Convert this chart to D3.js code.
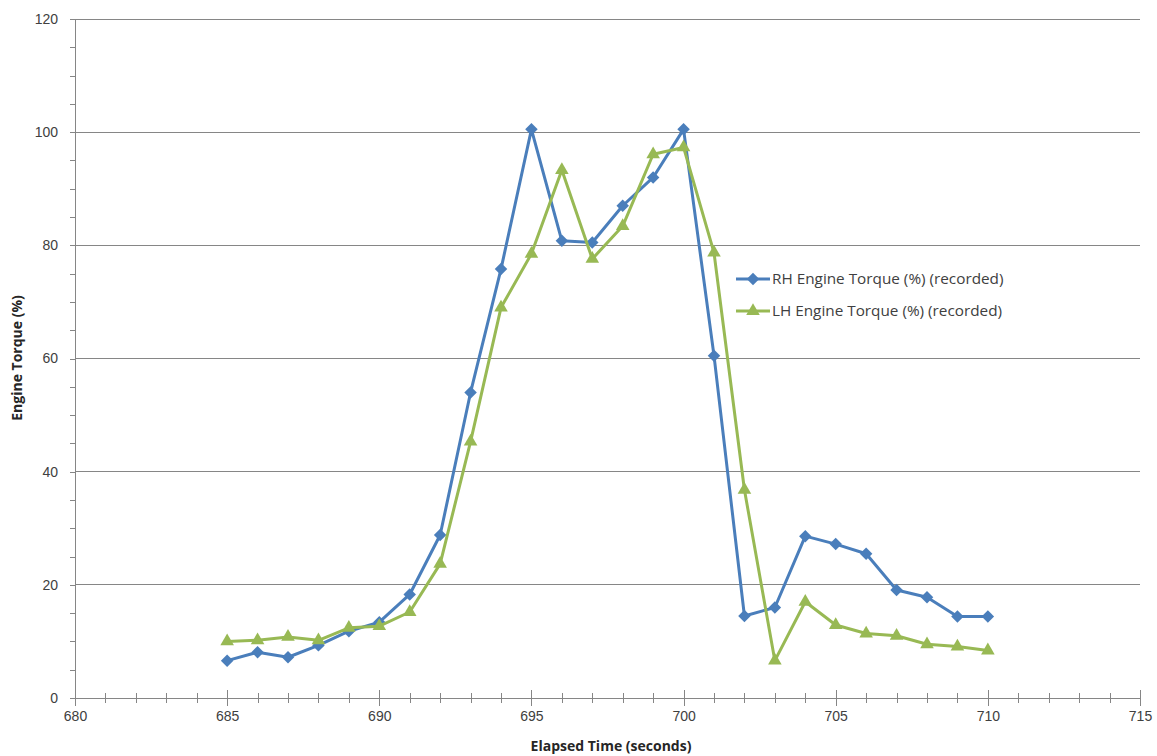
<!DOCTYPE html>
<html><head><meta charset="utf-8">
<script src="https://cdn.jsdelivr.net/npm/d3@7"></script>
<style>body{margin:0;background:#fff;}svg{display:block;font-family:"Open Sans",sans-serif;}</style>
</head><body>
<svg id="c" width="1157" height="756"></svg>
<script>
const times = [685,686,687,688,689,690,691,692,693,694,695,696,697,698,699,700,701,702,703,704,705,706,707,708,709,710];
const rhTorque = [6.6,8.1,7.2,9.3,11.8,13.4,18.3,28.8,54.0,75.8,100.5,80.8,80.5,87.0,92.0,100.5,60.5,14.5,16.0,28.6,27.2,25.5,19.1,17.8,14.4,14.4];
const lhTorque = [10.0,10.2,10.8,10.2,12.4,12.7,15.2,23.7,45.3,69.0,78.5,93.3,77.6,83.4,96.1,97.3,78.7,36.8,6.6,17.0,12.9,11.4,11.0,9.5,9.1,8.4];
const xTicks = [680,685,690,695,700,705,710,715];
const yTicks = [0,20,40,60,80,100,120];
const seriesNames = ["RH Engine Torque (%) (recorded)","LH Engine Torque (%) (recorded)"];
const colors = ["#4a7ebb","#98b954"];

const svg = d3.select("#c");
const L = 75, R = 1140, T = 19, B = 698;
const x = d3.scaleLinear().domain([680,715]).range([L,R]);
const y = d3.scaleLinear().domain([0,120]).range([B,T]);
const gridColor = "#868686";

svg.append("g").selectAll("line").data(yTicks.filter(d=>d>0)).join("line")
  .attr("x1",L).attr("x2",R).attr("y1",d=>y(d)).attr("y2",d=>y(d))
  .attr("stroke",gridColor).attr("stroke-width",1).attr("shape-rendering","crispEdges");

const yAxis = svg.append("g").attr("transform",`translate(${L},0)`)
  .call(d3.axisLeft(y).tickValues(d3.range(0,121,5)).tickSize(5).tickFormat(d=>yTicks.includes(d)?d:""));
yAxis.select(".domain").attr("stroke",gridColor).attr("shape-rendering","crispEdges");
yAxis.selectAll(".tick line").attr("stroke",gridColor).attr("shape-rendering","crispEdges");
yAxis.selectAll(".tick text").attr("x",-17).attr("font-size",14).attr("fill","#404040");

const xAxis = svg.append("g").attr("transform",`translate(0,${B})`)
  .call(d3.axisBottom(x).tickValues(d3.range(680,716,1)).tickSize(5).tickFormat(d=>xTicks.includes(d)?d:""));
xAxis.select(".domain").attr("stroke",gridColor).attr("shape-rendering","crispEdges");
xAxis.selectAll(".tick line").attr("stroke",gridColor).attr("shape-rendering","crispEdges")
  .attr("y1",-5).attr("y2",5);
xAxis.selectAll(".tick").filter(d=>xTicks.includes(d)).select("line").attr("y1",-8).attr("y2",8);
xAxis.selectAll(".tick text").attr("y",13).attr("font-size",14).attr("fill","#404040");

svg.append("text").attr("x",611).attr("y",751).attr("text-anchor","middle")
  .attr("font-size",14).attr("font-weight","bold").attr("fill","#262626").text("Elapsed Time (seconds)");
svg.append("text").attr("transform",`translate(22,358) rotate(-90)`).attr("text-anchor","middle")
  .attr("font-size",14).attr("font-weight","bold").attr("fill","#262626").text("Engine Torque (%)");

const line = d3.line().x(d=>x(d[0])).y(d=>y(d[1]));
const diamond = d3.symbol().type(d3.symbolSquare).size(78);
const tri = d3.symbol().type(d3.symbolTriangle).size(80);

[rhTorque, lhTorque].forEach((vals,i)=>{
  const pts = times.map((t,j)=>[t,vals[j]]);
  svg.append("path").datum(pts).attr("d",line).attr("fill","none")
    .attr("stroke",colors[i]).attr("stroke-width",3).attr("stroke-linejoin","round");
  svg.append("g").selectAll("path").data(pts).join("path")
    .attr("transform",d=>`translate(${x(d[0])},${y(d[1])})` + (i===0?" rotate(45)":""))
    .attr("d", i===0 ? diamond : tri)
    .attr("fill",colors[i]);
});

const lg = svg.append("g");
seriesNames.forEach((name,i)=>{
  const yy = 279 + i*32;
  lg.append("line").attr("x1",736).attr("x2",770).attr("y1",yy).attr("y2",yy)
    .attr("stroke",colors[i]).attr("stroke-width",3);
  lg.append("path").attr("transform",`translate(753,${yy})` + (i===0?" rotate(45)":""))
    .attr("d", i===0 ? diamond() : tri())
    .attr("fill",colors[i]);
  lg.append("text").attr("x",772).attr("y",yy+5).attr("font-size",15.3).attr("fill","#404040").text(name);
});
</script>
</body></html>
